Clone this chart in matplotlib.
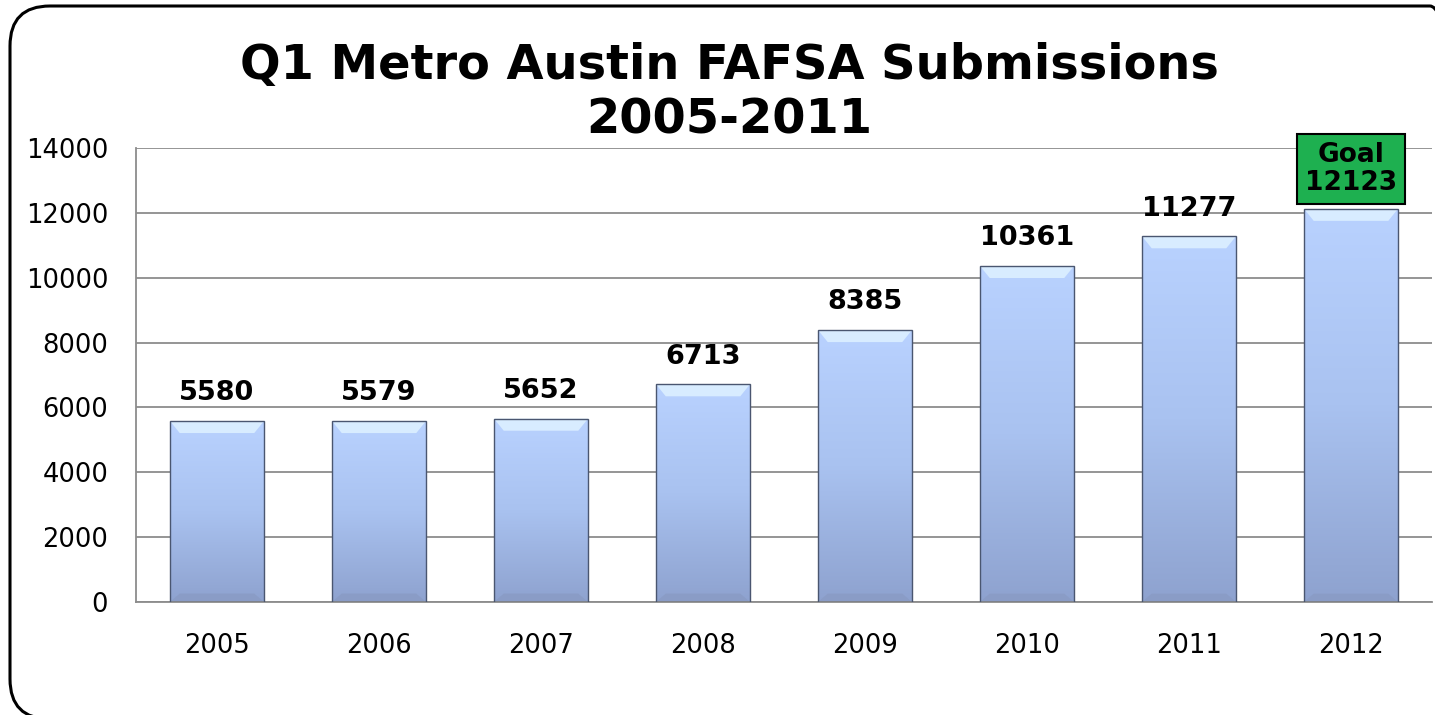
import numpy as np
import matplotlib
matplotlib.use("Agg")
import matplotlib.pyplot as plt
import matplotlib.transforms as mtransforms
from matplotlib.patches import FancyBboxPatch, Polygon
from matplotlib.colors import LinearSegmentedColormap

years = ['2005', '2006', '2007', '2008', '2009', '2010', '2011', '2012']
submissions = [5580, 5579, 5652, 6713, 8385, 10361, 11277, 12123]
bar_labels = ['5580', '5579', '5652', '6713', '8385', '10361', '11277', 'Goal\n12123']
title = 'Q1 Metro Austin FAFSA Submissions\n2005-2011'
yticks = [0, 2000, 4000, 6000, 8000, 10000, 12000, 14000]

W, H = 1435, 715
fig = plt.figure(figsize=(W / 100, H / 100), dpi=100)
fig.patch.set_facecolor('white')

# rounded outer frame, drawn in pixel coords (y up)
px = mtransforms.Affine2D().scale(1 / W, 1 / H) + fig.transFigure
frame = FancyBboxPatch((10, -4), 1460, 713,
                       boxstyle='round,pad=0,rounding_size=40',
                       transform=px, fill=False,
                       edgecolor='black', linewidth=2.2)
fig.add_artist(frame)

ax = fig.add_axes([136 / W, (H - 602) / H, (1432 - 136) / W, (602 - 148) / H])
ax.set_xlim(-0.5, len(years) - 0.5)
ax.set_ylim(0, 14000)
ax.set_yticks(yticks)
ax.set_yticklabels([str(v) for v in yticks], fontsize=18.5)
ax.set_xticks(range(len(years)))
ax.set_xticklabels(years, fontsize=18.5)
ax.tick_params(length=0)
ax.tick_params(axis='x', pad=22)
ax.tick_params(axis='y', pad=20)
ax.grid(axis='y', color='#8c8c8c', linewidth=1.3)
ax.set_axisbelow(True)
for s in ['top', 'right']:
    ax.spines[s].set_visible(False)
for s in ['left', 'bottom']:
    ax.spines[s].set_color('#8c8c8c')
    ax.spines[s].set_linewidth(1.3)

cmap = LinearSegmentedColormap.from_list('bar', ['#8ea2cf', '#a9c2f0', '#b9d2ff'])
grad = np.linspace(0, 1, 256).reshape(-1, 1)
bw = 0.58
bev_x = 0.06
bev_y = 370
bars = ax.bar(range(len(years)), submissions, width=bw, color='none',
              edgecolor='#4a5670', linewidth=1.0, zorder=3)
for b in bars:
    x0, h = b.get_x(), b.get_height()
    im = ax.imshow(grad, cmap=cmap, origin='lower', aspect='auto',
                   extent=[x0, x0 + bw, 0, h], zorder=2)
    im.set_clip_path(b)
    # light bevel at the top
    ax.add_patch(Polygon([[x0, h], [x0 + bw, h], [x0 + bw - bev_x, h - bev_y],
                          [x0 + bev_x, h - bev_y]], closed=True,
                         facecolor='#d8ecff', edgecolor='none', zorder=2.5))
    # darker bevel at the bottom
    ax.add_patch(Polygon([[x0, 0], [x0 + bw, 0], [x0 + bw - bev_x, bev_y * 0.7],
                          [x0 + bev_x, bev_y * 0.7]], closed=True,
                         facecolor='#8a9cc6', edgecolor='none', zorder=2.5))

for i, (v, lab) in enumerate(zip(submissions, bar_labels)):
    if lab.startswith('Goal'):
        ax.text(i, v + 390, lab, ha='center', va='bottom', fontsize=19,
                fontweight='bold', linespacing=1.12, zorder=5,
                bbox=dict(boxstyle='square,pad=0.3', facecolor='#1eb050',
                          edgecolor='black', linewidth=1.5))
    else:
        ax.text(i, v + 450, lab, ha='center', va='bottom', fontsize=19.5,
                fontweight='bold', zorder=5)

fig.text(0.508, H - 143, title, ha='center', va='bottom', fontsize=34.5,
         fontweight='bold', linespacing=1.2,
         transform=mtransforms.blended_transform_factory(fig.transFigure, px))

fig.savefig('out.png', dpi=100)
